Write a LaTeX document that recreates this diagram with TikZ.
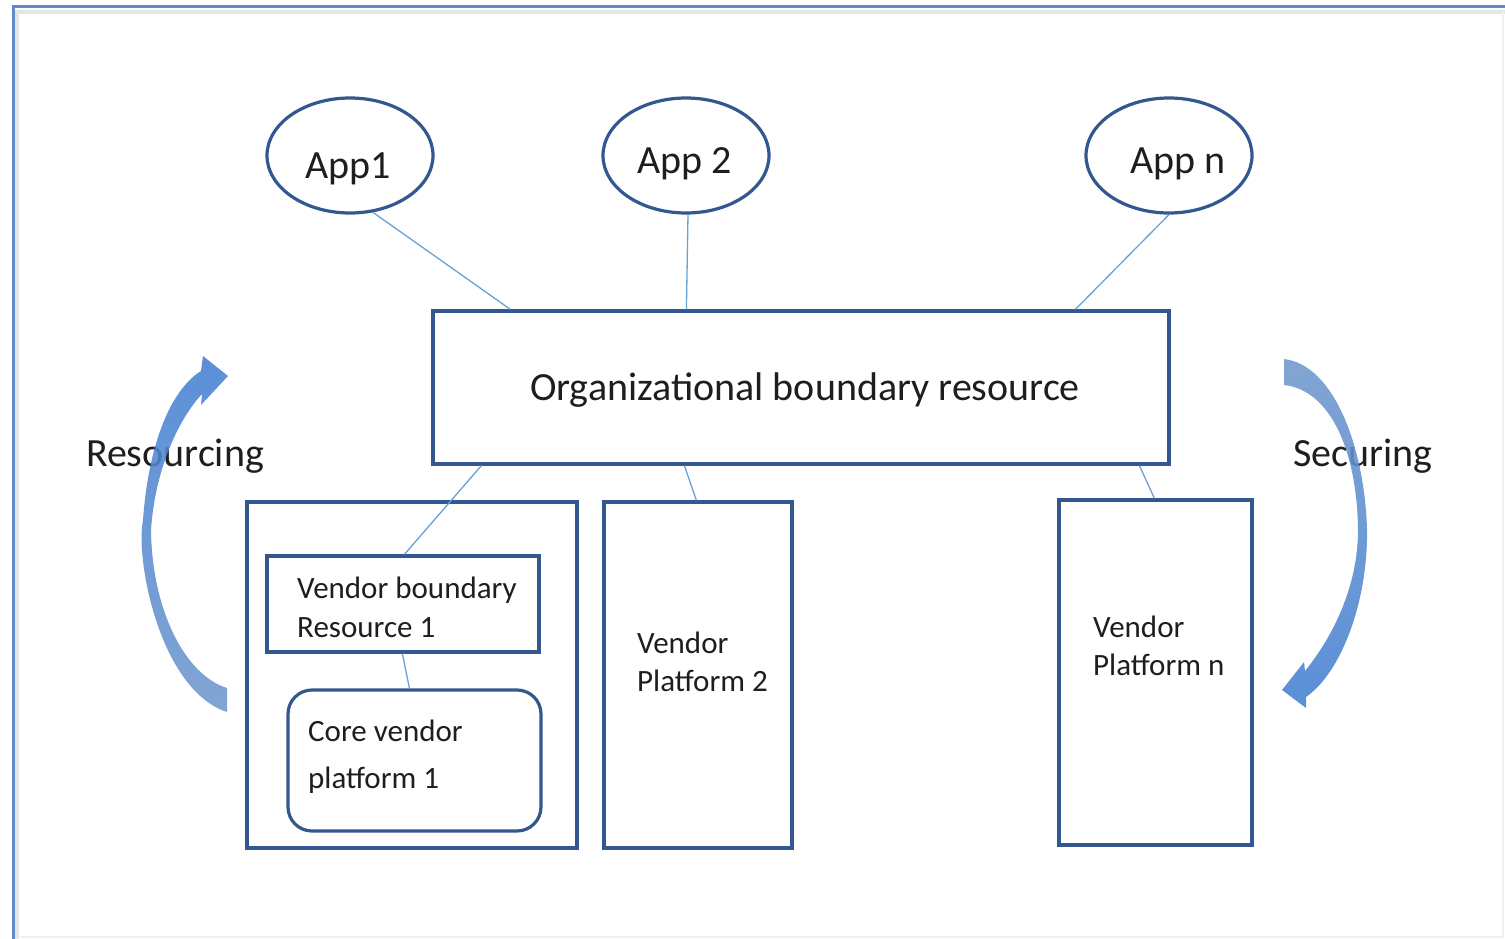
\documentclass[tikz,border=0pt]{standalone}
\usepackage{fontspec}
\setmainfont{Carlito}
\usetikzlibrary{shapes.geometric,calc}
\definecolor{boxblue}{RGB}{50,88,143}
\definecolor{lineblue}{RGB}{105,160,215}
\definecolor{frameblue}{RGB}{95,140,200}
\definecolor{txt}{RGB}{30,30,30}
\definecolor{arrowdark}{RGB}{68,128,210}
\definecolor{arrowlight}{RGB}{112,152,205}
\begin{document}
\begin{tikzpicture}[x=1pt,y=-1pt,
  box/.style={draw=boxblue,line width=3.2pt,inner sep=0pt,rectangle},
  app/.style={ellipse,draw=boxblue,line width=3.2pt,inner sep=0pt,minimum width=166,minimum height=115},
  conn/.style={draw=lineblue,line width=1.3pt},
  bigtxt/.style={text=txt,inner sep=0pt,font=\fontsize{40}{48}\selectfont},
  smalltxt/.style={text=txt,inner sep=0pt,align=left,anchor=west},
  curvearrow/.style={draw=none,fill opacity=0.88},
]
\useasboundingbox (0,0) rectangle (1505,939);
% frame
\draw[black!10,line width=4pt] (17,939) -- (17,12) -- (1505,12);
\draw[black!6,line width=1.5pt] (20,937) -- (1503,937) -- (1503,12);
\draw[frameblue,line width=3pt] (13,939) -- (13,7) -- (1505,7);

% apps
\node[app] (app1) at (350,155.5) {};
\node[app] (app2) at (686,155.5) {};
\node[app] (appn) at (1169,155.5) {};
\node[bigtxt] (app1t) at (348,169) {App1};
\node[bigtxt] (app2t) at (685,164) {App 2};
\node[bigtxt] (appnt) at (1178,164) {App n};

% boxes
\node[box,minimum width=736,minimum height=153] (org) at (801,387.5) {};
\node[box,minimum width=330,minimum height=346] (lbox) at (412,675) {};
\node[box,minimum width=272,minimum height=96] (vbr) at (403,604) {};
\node[box,rounded corners=24pt,minimum width=253,minimum height=141] (core) at (414.5,760.5) {};
\node[box,minimum width=188,minimum height=346] (vp2) at (698,675) {};
\node[box,minimum width=193,minimum height=345] (vpn) at (1155.5,672.5) {};

% texts
\node[bigtxt] (orgt) at (805,390) {Organizational boundary resource};
\node[bigtxt] (rest) at (175,456) {Resourcing};
\node[bigtxt] (sect) at (1363,456) {Securing};
\node[smalltxt,font=\fontsize{31}{39}\selectfont] (vbrt) at (297,607.5) {Vendor boundary\\Resource 1};
\node[smalltxt,font=\fontsize{31}{47}\selectfont] (coret) at (308,757) {Core vendor\\platform 1};
\node[smalltxt,font=\fontsize{31}{38}\selectfont] (vp2t) at (637,662) {Vendor\\Platform 2};
\node[smalltxt,font=\fontsize{31}{38}\selectfont] (vpnt) at (1093,646) {Vendor\\Platform n};

% connectors
\draw[conn] (app1.-68) -- ($(org.north west)+(79,0)$);
\draw[conn] ($(app2.south)+(2,0)$) -- ($(org.north west)+(255,0)$);
\draw[conn] (appn.south) -- ($(org.north west)+(644,0)$);
\draw[conn] ($(org.south west)+(50,0)$) -- ($(vbr.north west)+(139,0)$);
\draw[conn] ($(org.south west)+(253,0)$) -- ($(vp2.north west)+(94,0)$);
\draw[conn] ($(org.south west)+(708,0)$) -- ($(vpn.north west)+(97,0)$);
\draw[conn] ($(vbr.south west)+(137,0)$) -- ($(core.north west)+(123,0)$);

% curved arrows
\shade[curvearrow,top color=arrowdark,bottom color=arrowlight]
  (227,712) .. controls (160,690) and (135,560) .. (143,520)
  .. controls (148,450) and (168,392) .. (201,371)
  -- (203,356) -- (228,376) -- (201,405) -- (202,394)
  .. controls (178,420) and (155,470) .. (151,530)
  .. controls (152,610) and (185,675) .. (227,688) -- cycle;
\shade[curvearrow,top color=arrowlight,bottom color=arrowdark]
  (1284,359) .. controls (1335,365) and (1365,450) .. (1367,530)
  .. controls (1368,600) and (1342,672) .. (1306,697)
  -- (1306,708) -- (1282,690) -- (1304,662) -- (1305,671)
  .. controls (1338,630) and (1358,580) .. (1358,530)
  .. controls (1357,450) and (1330,390) .. (1284,385) -- cycle;
\end{tikzpicture}
\end{document}
